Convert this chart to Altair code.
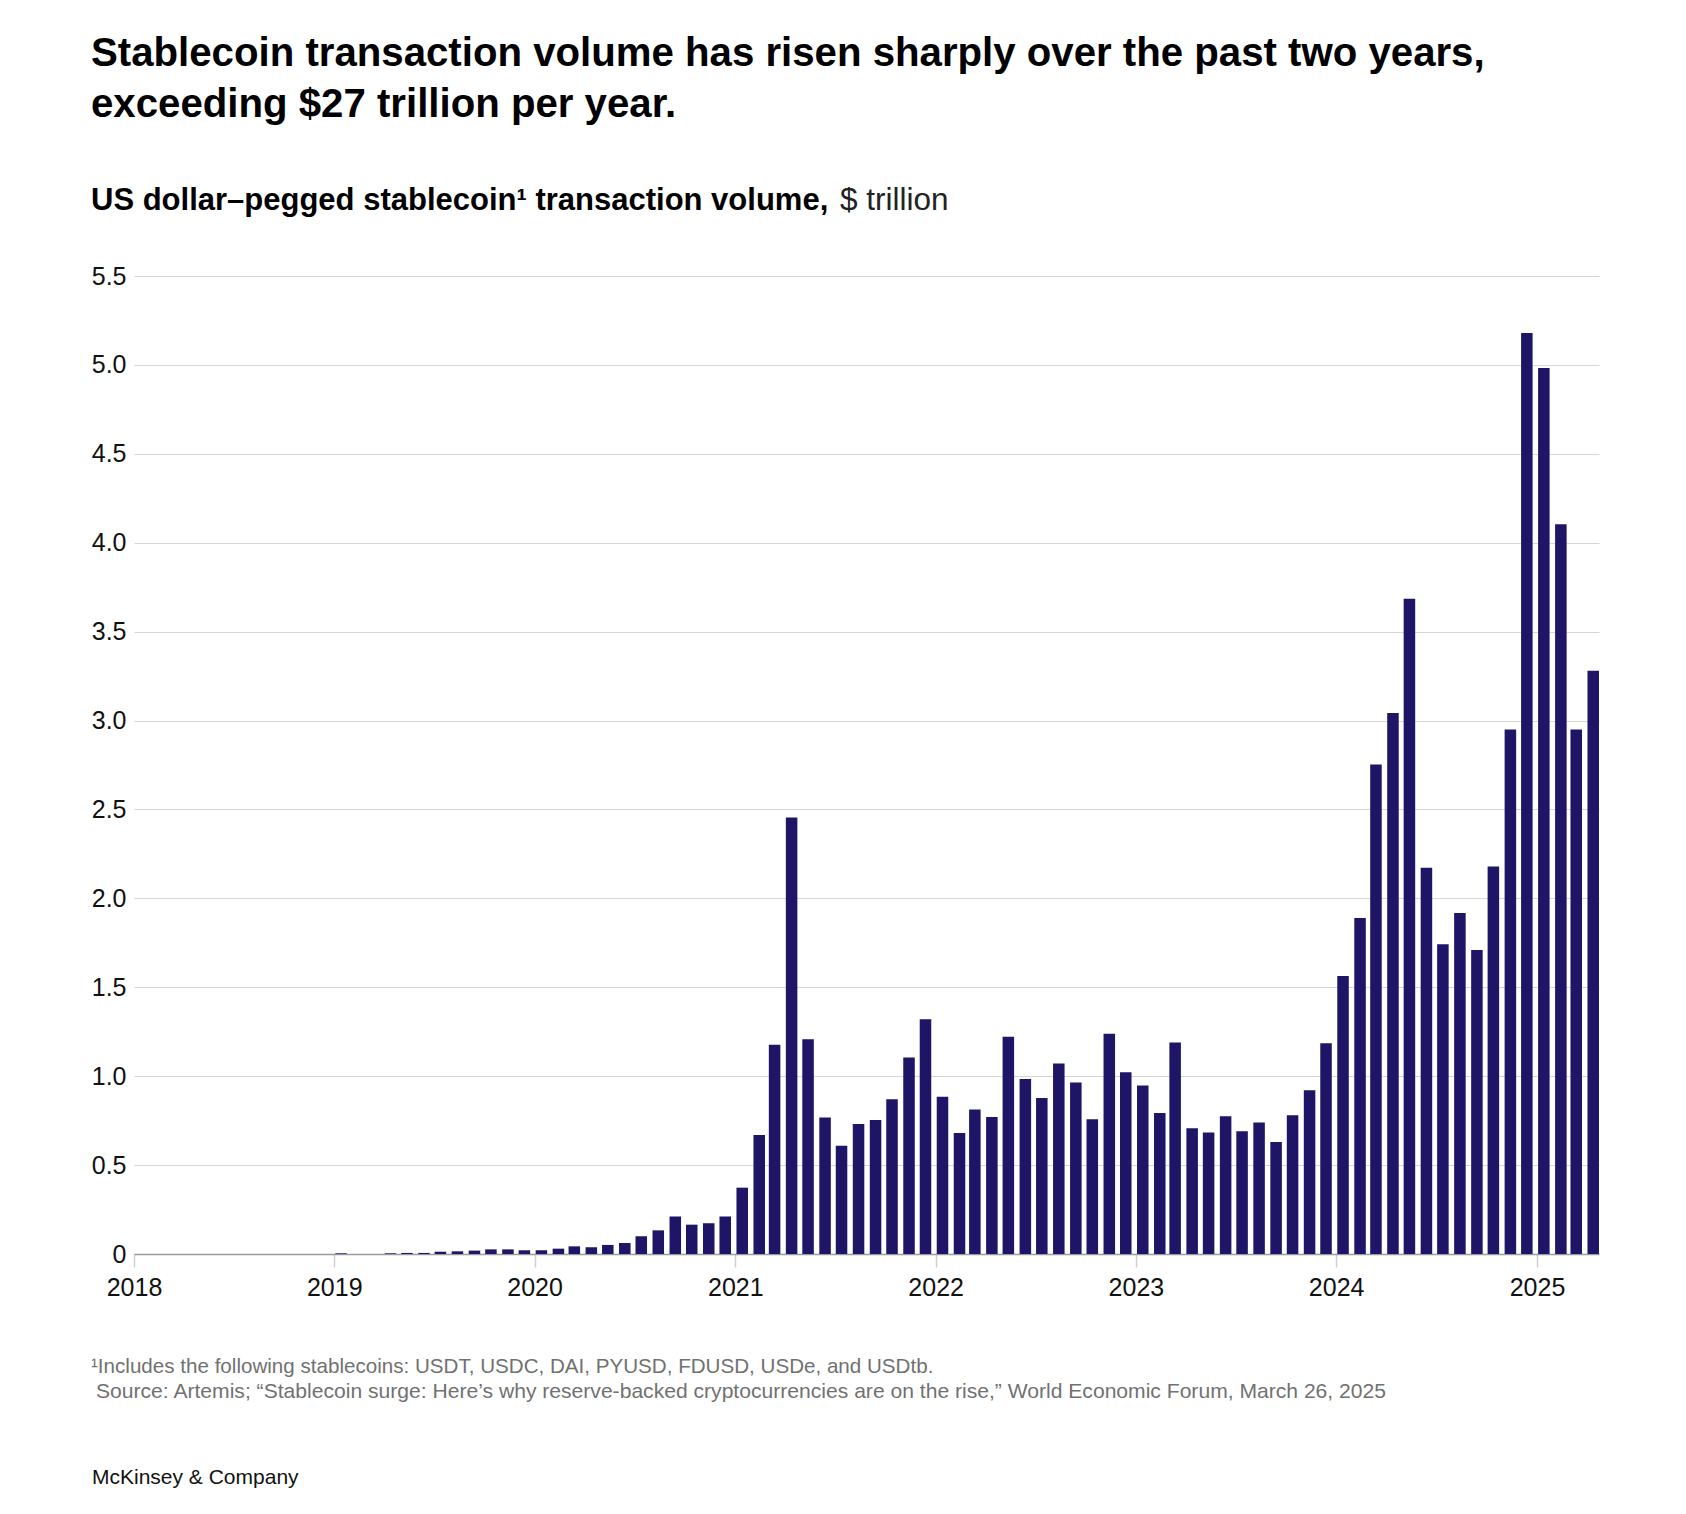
import altair as alt
import pandas as pd

# Monthly US dollar-pegged stablecoin transaction volume, $ trillion
vol_2018 = [0, 0, 0, 0, 0, 0, 0, 0, 0, 0, 0, 0]
vol_2019 = [0.004, 0.0, 0.0, 0.004, 0.006, 0.006, 0.013, 0.015, 0.019, 0.026, 0.026, 0.021]
vol_2020 = [0.021, 0.030, 0.043, 0.038, 0.051, 0.062, 0.100, 0.133, 0.211, 0.165, 0.173, 0.211]
vol_2021 = [0.373, 0.669, 1.177, 2.455, 1.208, 0.767, 0.609, 0.731, 0.754, 0.870, 1.105, 1.320]
vol_2022 = [0.885, 0.681, 0.812, 0.771, 1.222, 0.984, 0.878, 1.072, 0.964, 0.758, 1.238, 1.022]
vol_2023 = [0.947, 0.793, 1.189, 0.707, 0.683, 0.774, 0.690, 0.739, 0.630, 0.780, 0.921, 1.185]
vol_2024 = [1.563, 1.889, 2.753, 3.043, 3.685, 2.172, 1.742, 1.918, 1.710, 2.179, 2.950, 5.179]
vol_2025 = [4.982, 4.104, 2.950, 3.280]

years = [2018, 2019, 2020, 2021, 2022, 2023, 2024, 2025]
series = [vol_2018, vol_2019, vol_2020, vol_2021, vol_2022, vol_2023, vol_2024, vol_2025]
y_ticks = [0, 0.5, 1.0, 1.5, 2.0, 2.5, 3.0, 3.5, 4.0, 4.5, 5.0, 5.5]

title_lines = [
    "Stablecoin transaction volume has risen sharply over the past two years,",
    "exceeding $27 trillion per year.",
]
subtitle_bold = "US dollar\u2013pegged stablecoin\u00b9 transaction volume,"
subtitle_unit = "$ trillion"
note_lines = [
    "\u00b9Includes the following stablecoins: USDT, USDC, DAI, PYUSD, FDUSD, USDe, and USDtb.",
    "Source: Artemis; \u201cStablecoin surge: Here\u2019s why reserve-backed cryptocurrencies are on the rise,\u201d World Economic Forum, March 26, 2025",
]
brand = "McKinsey & Company"

FONT = "Liberation Sans"
BAR = "#1f1566"

rows = []
for yr, vals in zip(years, series):
    for m, v in enumerate(vals, start=1):
        month = pd.Timestamp(year=yr, month=m, day=1)
        # each monthly bar occupies the first ~70% of its month
        rows.append({
            "start": month + pd.Timedelta(days=2),
            "end": month + pd.Timedelta(days=23),
            "volume": v,
        })
df = pd.DataFrame(rows)

W, H = 1465, 978

bars = alt.Chart(df).mark_bar(color=BAR).encode(
    x=alt.X(
        "start:T",
        scale=alt.Scale(domain=[alt.DateTime(year=2018, month=1, date=1),
                                alt.DateTime(year=2025, month=4, date=24)]),
        axis=alt.Axis(
            values=[alt.DateTime(year=y, month=1, date=1) for y in years],
            format="%Y", title=None, grid=False,
            domainColor="#9b9b9b", domainWidth=1.5,
            tickColor="#d0d0d0", tickSize=13, tickWidth=1.5,
            labelFont=FONT, labelFontSize=25, labelColor="#111111",
            labelPadding=8, labelFlush=False,
        ),
    ),
    x2="end:T",
    y=alt.Y(
        "volume:Q",
        scale=alt.Scale(domain=[0, 5.5], nice=False),
        axis=alt.Axis(
            values=y_ticks, title=None, ticks=False, domain=False,
            gridColor="#d6d6d6", gridWidth=1,
            labelFont=FONT, labelFontSize=25, labelColor="#111111",
            labelPadding=8,
            labelExpr="datum.value == 0 ? '0' : format(datum.value, '.1f')",
        ),
    ),
    y2=alt.datum(0),
)


def text_line(txt, x, y, size, weight="normal", color="#000000"):
    return alt.Chart(pd.DataFrame({"t": [txt]})).mark_text(
        align="left", baseline="alphabetic", font=FONT,
        fontSize=size, fontWeight=weight, color=color,
    ).encode(x=alt.value(x), y=alt.value(y), text="t:N")


# positions are relative to the plot area's top-left corner
layers = [
    bars,
    text_line(title_lines[0], -43, -210, 40.2, "bold"),
    text_line(title_lines[1], -43, -159, 40.2, "bold"),
    text_line(subtitle_bold, -43, -66, 31, "bold"),
    text_line(subtitle_unit, 706, -66, 31.5, "normal", "#222222"),
    text_line(note_lines[0], -43, 1097, 20.6, "normal", "#717171"),
    text_line(note_lines[1], -38, 1122, 21.1, "normal", "#717171"),
    text_line(brand, -42, 1208, 21, "normal", "#111111"),
]

chart = alt.layer(*layers).properties(
    width=W, height=H,
    padding={"left": 134, "top": 276, "right": 87, "bottom": 260},
    autosize=alt.AutoSizeParams(type="none"),
    background="white",
).configure_view(stroke=None)

chart.save("out.html", embed_options={"renderer": "svg", "actions": False})
